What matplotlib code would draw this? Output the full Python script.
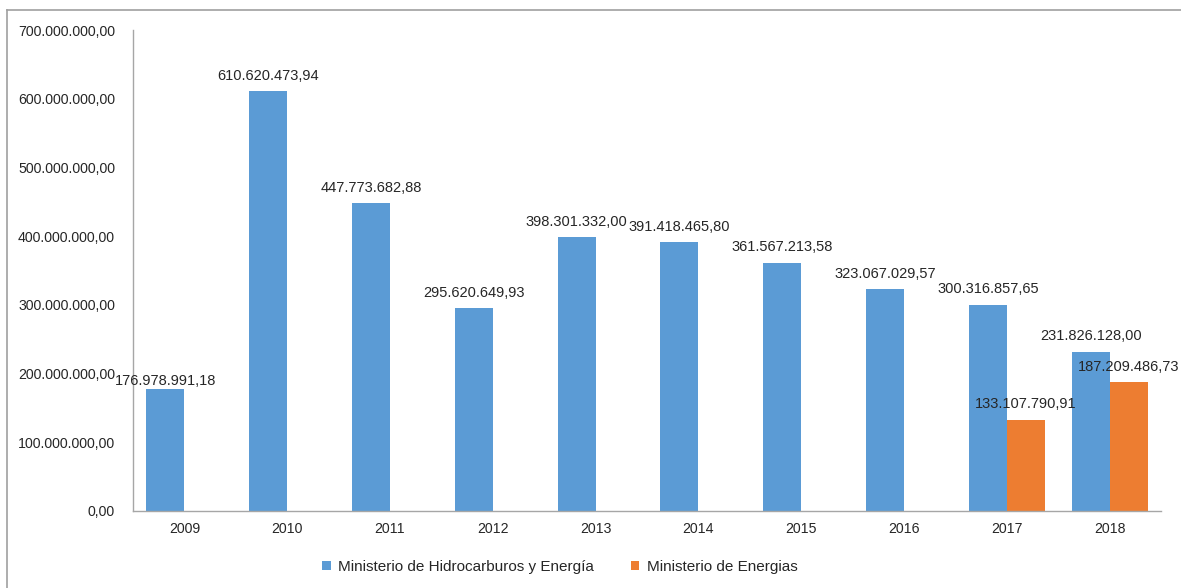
import numpy as np
import matplotlib.pyplot as plt
from matplotlib.lines import Line2D

plt.rcParams['font.family'] = ['Liberation Sans', 'DejaVu Sans']

years = ['2009', '2010', '2011', '2012', '2013', '2014', '2015', '2016', '2017', '2018']
hidrocarburos = [176978991.18, 610620473.94, 447773682.88, 295620649.93, 398301332.00,
                 391418465.80, 361567213.58, 323067029.57, 300316857.65, 231826128.00]
energias = [None, None, None, None, None, None, None, None, 133107790.91, 187209486.73]

blue = '#5B9BD5'
orange = '#ED7D31'
txt = '#262626'


def fmt(v):
    # 1234567.89 -> 1.234.567,89
    s = f'{v:,.2f}'
    return s.replace(',', 'X').replace('.', ',').replace('X', '.')


fig = plt.figure(figsize=(11.81, 5.88), dpi=100)
ax = fig.add_axes([133 / 1181, 77 / 588, 1028 / 1181, 481 / 588])

x = np.arange(len(years))
w = 0.37
e_vals = [v if v is not None else 0 for v in energias]
b1 = ax.bar(x - w / 2, hidrocarburos, w, color=blue, label='Ministerio de Hidrocarburos y Energía')
b2 = ax.bar(x + w / 2, e_vals, w, color=orange, label='Ministerio de Energias')

for i, v in enumerate(hidrocarburos):
    # first label sits lower, right on the bar top
    dy = 1 if i == 0 else 6
    ax.annotate(fmt(v), (x[i] - w / 2, v), xytext=(0, dy), textcoords='offset points',
                ha='center', va='bottom', fontsize=10.5, color=txt)
for i, v in enumerate(energias):
    if v is None:
        continue
    ax.annotate(fmt(v), (x[i] + w / 2, v), xytext=(0, 6), textcoords='offset points',
                ha='center', va='bottom', fontsize=10.5, color=txt)

ax.set_xlim(-0.5, len(years) - 0.5)
ax.set_ylim(0, 700000000)
ax.set_yticks(np.arange(0, 700000001, 100000000))
ax.set_yticklabels([fmt(t) for t in ax.get_yticks()])
ax.set_xticks(x)
ax.set_xticklabels(years)
ax.tick_params(length=0, labelsize=10.2, colors=txt)
ax.tick_params(axis='y', pad=13)
ax.tick_params(axis='x', pad=8)

for s in ['top', 'right']:
    ax.spines[s].set_visible(False)
for s in ['left', 'bottom']:
    ax.spines[s].set_color('#a6a6a6')
    ax.spines[s].set_linewidth(1)

fig.legend(handles=[b1, b2], loc='center', bbox_to_anchor=(560 / 1181, 21 / 588), ncol=2,
           frameon=False, fontsize=11, handlelength=0.55, handleheight=0.55,
           handletextpad=0.5, columnspacing=2.4, labelcolor=txt)

# outer chart frame
fig.add_artist(Line2D([7 / 1181, 1], [1 - 10 / 588, 1 - 10 / 588], color='#a0a0a0', lw=1.2))
fig.add_artist(Line2D([7 / 1181, 7 / 1181], [0, 1 - 10 / 588], color='#a0a0a0', lw=1.2))

fig.savefig('out.png', dpi=100)
